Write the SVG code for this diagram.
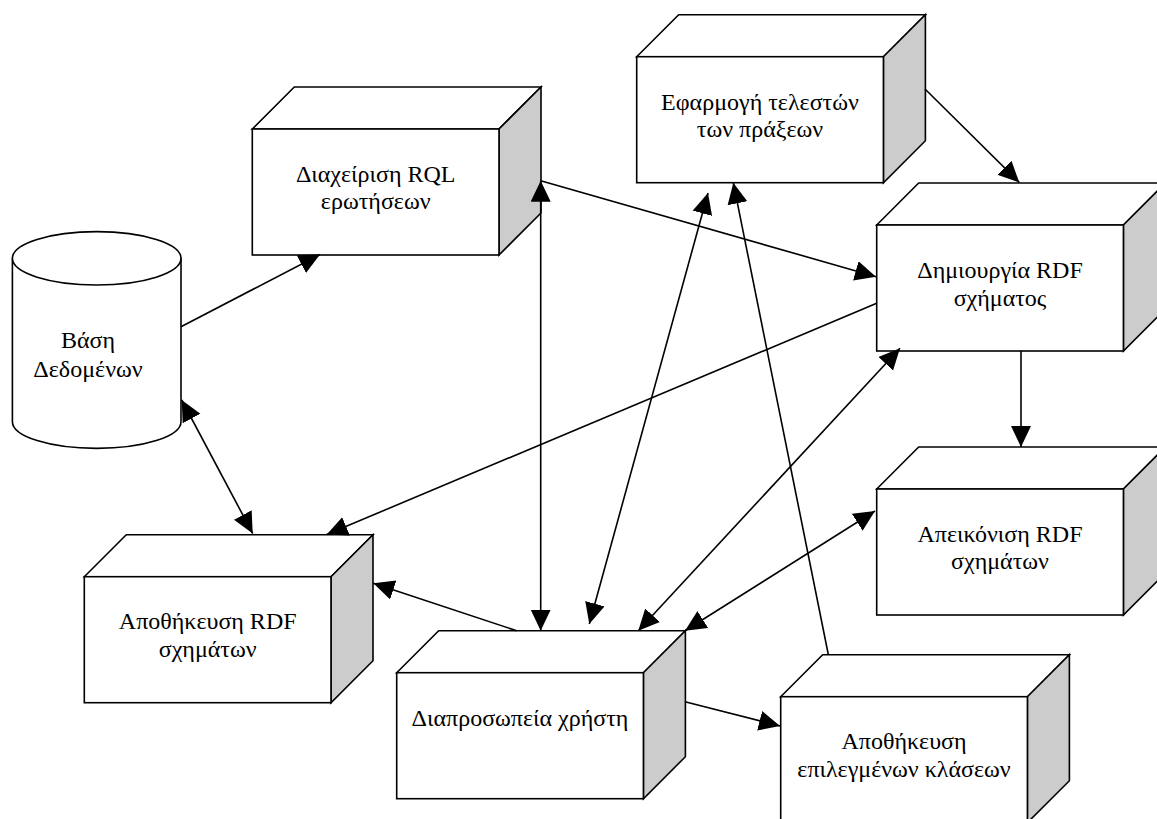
<svg xmlns="http://www.w3.org/2000/svg" width="1157" height="819" viewBox="0 0 1157 819">
<style>
.face{fill:#ffffff;stroke:#000;stroke-width:1.6;stroke-linejoin:miter}
.side{fill:#cccccc;stroke:#000;stroke-width:1.6}
.lbl{font-family:"Liberation Serif","Times New Roman",serif;font-size:24px;fill:#000;text-anchor:middle}
.con{stroke:#000;stroke-width:1.6;fill:none}
</style>
<defs>
<marker id="ah" markerUnits="userSpaceOnUse" markerWidth="22" markerHeight="21" refX="21" refY="10" orient="auto-start-reverse" viewBox="0 0 22 21">
<path d="M0,0 L21,10 L0,20 Z" fill="#000"/>
</marker>
</defs>
<rect width="1157" height="819" fill="#fff"/>

<g id="db">
<path class="face" d="M12.4,258.3 L12.4,421.7 A84.3,26.7 0 0 0 181,421.7 L181,258.3"/>
<ellipse class="face" cx="96.7" cy="258.3" rx="84.3" ry="26.7"/>
<text class="lbl" x="88" y="348.3">Βάση</text>
<text class="lbl" x="88" y="376.7">Δεδομένων</text>
</g>

<g id="rql">
<polygon class="face" points="252.3,129 294.3,87 541,87 499,129"/>
<polygon class="side" points="499,129 541,87 541,213 499,255"/>
<rect class="face" x="252.3" y="129" width="246.7" height="126"/>
<text class="lbl" x="375.7" y="181.5">Διαχείριση RQL</text>
<text class="lbl" x="375.7" y="209">ερωτήσεων</text>
</g>

<g id="operators">
<polygon class="face" points="636.7,56.7 678.7,14.7 925.4,14.7 883.4,56.7"/>
<polygon class="side" points="883.4,56.7 925.4,14.7 925.4,140.7 883.4,182.7"/>
<rect class="face" x="636.7" y="56.7" width="246.7" height="126"/>
<text class="lbl" x="760" y="109.7">Εφαρμογή τελεστών</text>
<text class="lbl" x="760" y="137">των πράξεων</text>
</g>

<g id="create">
<polygon class="face" points="876.7,225 918.7,183 1165.4,183 1123.4,225"/>
<polygon class="side" points="1123.4,225 1165.4,183 1165.4,309 1123.4,351"/>
<rect class="face" x="876.7" y="225" width="246.7" height="126"/>
<text class="lbl" x="1000" y="278">Δημιουργία RDF</text>
<text class="lbl" x="1000" y="305.5">σχήματος</text>
</g>

<g id="display">
<polygon class="face" points="876.7,489 918.7,447 1165.4,447 1123.4,489"/>
<polygon class="side" points="1123.4,489 1165.4,447 1165.4,573 1123.4,615"/>
<rect class="face" x="876.7" y="489" width="246.7" height="126"/>
<text class="lbl" x="1000" y="541.7">Απεικόνιση RDF</text>
<text class="lbl" x="1000" y="569">σχημάτων</text>
</g>

<g id="store">
<polygon class="face" points="84.3,576.7 126.3,534.7 373,534.7 331,576.7"/>
<polygon class="side" points="331,576.7 373,534.7 373,660.7 331,702.7"/>
<rect class="face" x="84.3" y="576.7" width="246.7" height="126"/>
<text class="lbl" x="207.7" y="628.7">Αποθήκευση RDF</text>
<text class="lbl" x="207.7" y="656.5">σχημάτων</text>
</g>

<g id="ui">
<polygon class="face" points="396.7,672.7 438.7,630.7 685.4,630.7 643.4,672.7"/>
<polygon class="side" points="643.4,672.7 685.4,630.7 685.4,756.7 643.4,798.7"/>
<rect class="face" x="396.7" y="672.7" width="246.7" height="126"/>
<text class="lbl" x="520" y="725.7">Διαπροσωπεία χρήστη</text>
</g>

<g id="selected">
<polygon class="face" points="780.7,696.7 822.7,654.7 1069.4,654.7 1027.4,696.7"/>
<polygon class="side" points="1027.4,696.7 1069.4,654.7 1069.4,780.7 1027.4,822.7"/>
<rect class="face" x="780.7" y="696.7" width="246.7" height="126"/>
<text class="lbl" x="904" y="748.5">Αποθήκευση</text>
<text class="lbl" x="904" y="776.5">επιλεγμένων κλάσεων</text>
</g>

<g id="connectors">
<line class="con" x1="181" y1="326.7" x2="320" y2="254.5" marker-end="url(#ah)"/>
<line class="con" x1="540.7" y1="180.7" x2="540.7" y2="630.7" marker-start="url(#ah)" marker-end="url(#ah)"/>
<line class="con" x1="540.7" y1="180.7" x2="876" y2="276.7" marker-end="url(#ah)"/>
<line class="con" x1="925" y1="89" x2="1019.3" y2="182.5" marker-end="url(#ah)"/>
<line class="con" x1="1021" y1="351" x2="1021" y2="447" marker-end="url(#ah)"/>
<line class="con" x1="876.7" y1="303.3" x2="326.7" y2="534.5" marker-end="url(#ah)"/>
<line class="con" x1="181.7" y1="400" x2="252.7" y2="533.5" marker-start="url(#ah)" marker-end="url(#ah)"/>
<line class="con" x1="516.7" y1="630.7" x2="373.3" y2="583.3" marker-end="url(#ah)"/>
<line class="con" x1="589.3" y1="624" x2="708" y2="193" marker-start="url(#ah)" marker-end="url(#ah)"/>
<line class="con" x1="828.3" y1="654.5" x2="733.3" y2="182.7" marker-end="url(#ah)"/>
<line class="con" x1="638.3" y1="630.7" x2="900" y2="348.3" marker-start="url(#ah)" marker-end="url(#ah)"/>
<line class="con" x1="685" y1="630.7" x2="875" y2="511" marker-start="url(#ah)" marker-end="url(#ah)"/>
<line class="con" x1="685" y1="701.7" x2="780" y2="726" marker-end="url(#ah)"/>
</g>
</svg>
